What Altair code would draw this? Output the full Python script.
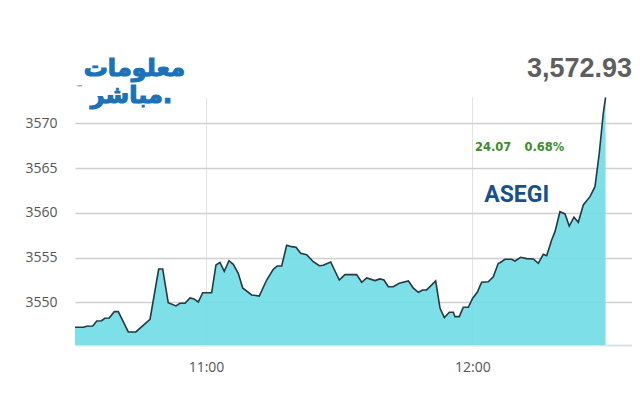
import altair as alt
import pandas as pd

# minute of the day (660 = 11:00) and index value
minutes = [630.5, 632.4, 633.1, 634.5, 635.4, 636.5, 637.2, 638.2, 639.35, 640.25,
           642.5, 644.2, 647.4, 649.35, 650.25, 651.5, 653.25, 654.15, 655.27, 656.4,
           657.3, 658.27, 659.26, 661.28, 662.25, 663.15, 664.12, 665.18, 666.15, 667.27,
           668.27, 670.29, 672.0, 673.67, 675.16, 676.06, 677.05, 678.18, 679.3, 680.27,
           681.33, 682.68, 684.17, 685.52, 686.42, 688.09, 690.02, 691.31, 693.94, 695.07,
           696.19, 698.06, 699.19, 700.09, 701.06, 702.18, 703.54, 705.6, 706.71, 707.84,
           708.8, 709.7, 711.73, 712.72, 713.69, 714.81, 715.71, 716.08, 717.05, 717.95,
           719.08, 720.07, 721.1, 722.09, 723.58, 724.71, 725.83, 726.22, 727.34, 728.85,
           729.59, 730.88, 732.23, 733.72, 734.84, 735.97, 736.73, 737.86, 738.6, 739.73,
           740.86, 741.82, 742.88, 743.85, 744.98, 746.49, 747.61, 748.58, 749.48, 750.0]
values = [3547.20, 3547.20, 3547.32, 3547.35, 3547.91, 3547.94, 3548.21, 3548.24, 3548.95, 3548.95,
          3546.68, 3546.68, 3548.10, 3553.72, 3553.72, 3549.96, 3549.59, 3549.89, 3549.89, 3550.48,
          3550.37, 3550.03, 3551.07, 3551.07, 3554.17, 3554.47, 3553.47, 3554.65, 3554.25, 3553.24,
          3551.60, 3550.82, 3550.70, 3552.49, 3553.69, 3554.06, 3554.06, 3556.38, 3556.22, 3556.15,
          3555.48, 3555.32, 3554.54, 3554.09, 3554.14, 3554.51, 3552.49, 3553.09, 3553.09, 3552.24,
          3552.72, 3552.42, 3552.61, 3552.49, 3551.74, 3551.74, 3552.13, 3552.38, 3551.57, 3551.12,
          3551.38, 3551.38, 3552.38, 3549.33, 3548.28, 3548.88, 3548.88, 3548.39, 3548.39, 3549.44,
          3549.44, 3550.45, 3551.12, 3552.24, 3552.30, 3552.86, 3554.36, 3554.43, 3554.81, 3554.81,
          3554.62, 3555.03, 3554.88, 3554.84, 3554.36, 3555.37, 3555.21, 3556.97, 3557.90, 3560.13,
          3559.88, 3558.53, 3559.51, 3558.95, 3560.88, 3561.81, 3562.93, 3566.67, 3571.14, 3572.93]

y_ticks = [3550, 3555, 3560, 3565, 3570]
x_ticks = [660, 720]  # 11:00, 12:00

last_value = "3,572.93"
change = "24.07"
change_pct = "0.68%"
index_name = "ASEGI"
logo_line1 = "معلومات"
logo_line2 = "مباشر."

df = pd.DataFrame({"m": minutes, "v": values})

x_scale = alt.Scale(domain=[630.5, 755.95], nice=False, zero=False)
y_scale = alt.Scale(domain=[3545.22, 3572.96], nice=False, zero=False)

x_enc = alt.X("m:Q", scale=x_scale, axis=alt.Axis(
    values=x_ticks, title=None, grid=True, gridColor="#e2e2e2", gridWidth=1,
    domain=True, domainColor="#dbe2ee", domainWidth=2, ticks=False,
    labelPadding=15, labelFontSize=14, labelFont="Open Sans", labelColor="#555555",
    labelExpr="floor(datum.value/60) + ':00'"))
y_enc = alt.Y("v:Q", scale=y_scale, axis=alt.Axis(
    values=y_ticks, title=None, grid=True, gridColor="#d0d0d0", gridWidth=1.6,
    domain=False, ticks=False, labelPadding=18, labelFontSize=14,
    labelFont="Open Sans", labelColor="#555555", format="d"))

area = alt.Chart(df).mark_area(
    color="#6fdbe6", fillOpacity=0.9, clip=True,
    line={"color": "#263840", "strokeWidth": 1.6}
).encode(x=x_enc, y=y_enc)

def txt(text, x, y, size, color, font, weight="normal", align="left", stroke_w=0.0):
    kw = {}
    if stroke_w > 0:
        kw = {"stroke": color, "strokeWidth": stroke_w}
    return alt.Chart(pd.DataFrame({"t": [text]})).mark_text(
        align=align, baseline="alphabetic", fontSize=size, color=color, font=font,
        fontWeight=weight, **kw
    ).encode(text="t:N", x=alt.value(x), y=alt.value(y))

texts = [
    txt(last_value, 557, -20, 27, "#5e5e5e", "Liberation Sans", "bold", "right"),
    txt(change, 400, 54, 11.5, "#3b8c2a", "DejaVu Sans", "bold"),
    txt(change_pct, 449.5, 54, 11.5, "#3b8c2a", "DejaVu Sans", "bold"),
    txt(index_name, 441.7, 104.7, 23, "#17508c", "Roboto", "bold", "center"),
    txt(logo_line1, 110, -21, 24, "#1a72b8", "DejaVu Sans", "bold", "right", 1.2),
    txt(logo_line2, 97, 6, 24, "#1a72b8", "DejaVu Sans", "bold", "right", 1.2),
    txt("™", 1, -7, 7, "#666666", "DejaVu Sans"),
]

chart = alt.layer(area, *texts).properties(
    width=557, height=248,
    autosize=alt.AutoSizeParams(type="none"),
    padding={"left": 67, "top": 89, "right": 0, "bottom": 40},
).configure_view(stroke=None)

chart.save("out.html", embed_options={"renderer": "svg", "actions": False})
